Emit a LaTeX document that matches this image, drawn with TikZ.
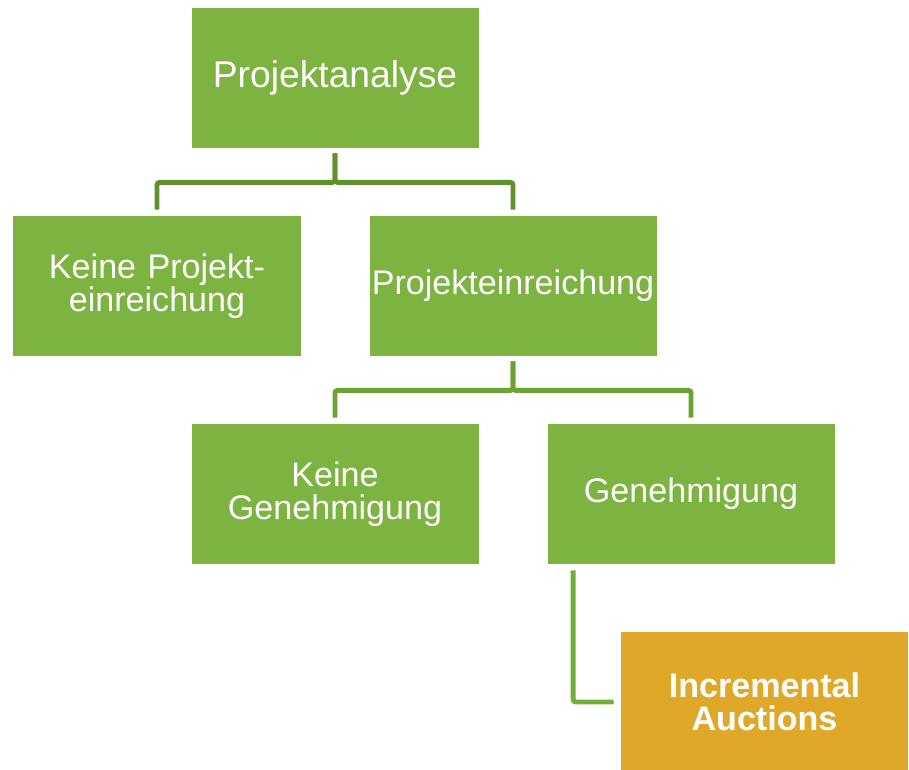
\documentclass[tikz,border=0pt]{standalone}
\usepackage{fontspec}
\setmainfont{Liberation Sans}
\usepackage{tikz}
\usetikzlibrary{trees}
\definecolor{boxgreen}{RGB}{125,179,64}
\definecolor{boxgold}{RGB}{223,168,41}
\definecolor{linkdark}{RGB}{96,145,46}
\definecolor{linkmid}{RGB}{108,162,52}
\definecolor{linklight}{RGB}{114,174,58}
\begin{document}
\begin{tikzpicture}[%
  stage/.style={fill=boxgreen, text=white, minimum width=5.74cm,
    minimum height=2.8cm, inner sep=0pt, text width=5.74cm, align=center,
    font=\fontsize{19.4}{18.8}\selectfont},
  level distance=4.16cm,
  level 1/.style={sibling distance=7.12cm,
    edge from parent/.style={draw=linkdark, line width=2.8pt, rounded corners=1.5pt}},
  level 2/.style={sibling distance=7.12cm,
    edge from parent/.style={draw=linkmid, line width=2.8pt, rounded corners=1.5pt}},
  level 3/.style={grow via three points={one child at (1.47,-4.16) and
    two children at (1.47,-4.16) and (1.47,-8.32)},
    edge from parent/.style={draw=linklight, line width=2.8pt, rounded corners=1.5pt},
    edge from parent path={([xshift=0.52cm,yshift=-0.12cm]\tikzparentnode.south west)
      |- ([xshift=-0.14cm]\tikzchildnode.west)}},
  edge from parent path={([yshift=-0.1cm]\tikzparentnode.south) -- ++(0,-0.58)
    -| ([yshift=0.12cm]\tikzchildnode.north)}]
  \useasboundingbox (0,0) rectangle (18.18,-15.38);
  \node[stage, font=\fontsize{21.2}{20}\selectfont] (analyse) at (6.7,-1.56) {Projektanalyse}
    child { node[stage] (keineein) {Keine Projekt-\\einreichung} }
    child { node[stage] (einreich) {Projekteinreichung}
      child { node[stage] (keinegen) {Keine\\Genehmigung} }
      child { node[stage] (genehm) {Genehmigung}
        child { node[stage, fill=boxgold, font=\fontsize{19.4}{18.8}\selectfont\bfseries]
          (auction) {Incremental\\Auctions} }
      }
    };
\end{tikzpicture}
\end{document}
